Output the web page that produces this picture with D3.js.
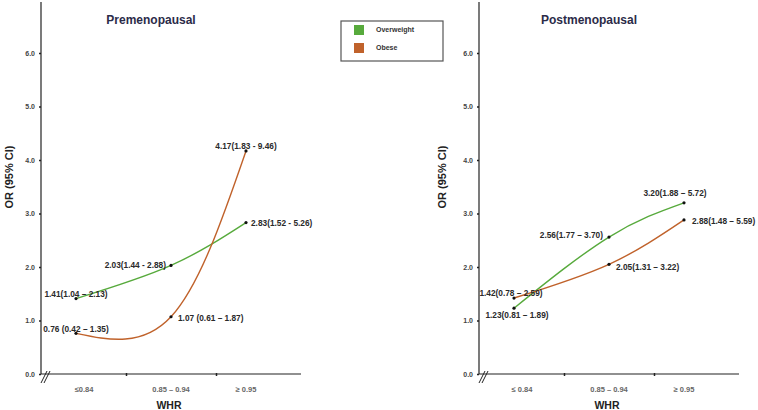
<!DOCTYPE html>
<html>
<head>
<meta charset="utf-8">
<script src="https://cdn.jsdelivr.net/npm/d3@7"></script>
<style>
  body { margin: 0; background: #fff; }
  svg { font-family: "Liberation Sans", Arial, sans-serif; }
</style>
</head>
<body>
<div id="chart"></div>
<script>
// WHR categories, placed at an approximate mid value of each band
const categoriesPre = ["≤0.84", "0.85 – 0.94", "≥ 0.95"];
const categoriesPost = ["≤ 0.84", "0.85 – 0.94", "≥ 0.95"];
const whrMid = [0.80, 0.895, 0.97];
const whrBounds = [0.85, 0.94];
const yTicks = [0, 1, 2, 3, 4, 5, 6];

// premenopausal
const preOverweight = [1.41, 2.03, 2.83];
const preOverweightText = ["1.41(1.04 – 2.13)", "2.03(1.44 - 2.88)", "2.83(1.52 - 5.26)"];
const preObese = [0.76, 1.07, 4.17];
const preObeseText = ["0.76 (0.42 – 1.35)", "1.07 (0.61 – 1.87)", "4.17(1.83 - 9.46)"];

// postmenopausal
const postOverweight = [1.23, 2.56, 3.20];
const postOverweightText = ["1.23(0.81 – 1.89)", "2.56(1.77 – 3.70)", "3.20(1.88 – 5.72)"];
const postObese = [1.42, 2.05, 2.88];
const postObeseText = ["1.42(0.78 – 2.59)", "2.05(1.31 – 3.22)", "2.88(1.48 – 5.59)"];

const seriesNames = ["Overweight", "Obese"];
const colors = { Overweight: "#57aa3c", Obese: "#c0622b" };

const W = 758, H = 410;
const svg = d3.select("#chart").append("svg")
  .attr("width", W)
  .attr("height", H);

// label offsets [dx, dy, anchor] relative to each point
const preLayout = {
  Overweight: [[0, -4, "middle"], [-5, 0, "end"], [5, 0, "start"]],
  Obese: [[0, -4, "middle"], [7, 1, "start"], [0, -5, "middle"]]
};
const postLayout = {
  Overweight: [[3, 7, "middle"], [-6, -2, "end"], [-9, -10, "middle"]],
  Obese: [[-3, -5, "middle"], [7, 3, "start"], [8, 1, "start"]]
};

function drawPanel(left, title, cats, rows, layout, titleGap) {
  const g = svg.append("g");
  const x = d3.scaleLinear().domain([0.765, 1.025]).range([left, left + 260]);
  const y = d3.scaleLinear().domain([0, 6]).range([374, 53]);

  // y axis
  const yAxis = g.append("g")
    .attr("transform", "translate(" + left + ",0)")
    .call(d3.axisLeft(y).tickValues(yTicks).tickSize(2).tickPadding(4)
      .tickFormat(d3.format(".1f")));
  yAxis.select(".domain").remove();
  yAxis.selectAll("line").attr("stroke", "#222").attr("stroke-width", 1.5);
  yAxis.selectAll("text")
    .style("font-size", "7px").style("font-weight", "bold").attr("fill", "#444");
  g.append("line")
    .attr("x1", left).attr("x2", left).attr("y1", 2).attr("y2", y(0))
    .attr("stroke", "#222").attr("stroke-width", 1.2);

  // x axis
  const xAxis = g.append("g")
    .attr("transform", "translate(0," + y(0) + ")")
    .call(d3.axisBottom(x).tickValues(whrBounds).tickSize(2).tickFormat(""));
  xAxis.select(".domain").remove();
  xAxis.selectAll("line").attr("stroke", "#222").attr("stroke-width", 1.5)
    .attr("y1", -1);
  g.append("line")
    .attr("x1", left).attr("x2", x.range()[1]).attr("y1", y(0)).attr("y2", y(0))
    .attr("stroke", "#222").attr("stroke-width", 1.2);

  // axis break marks
  [0, 3].forEach(function(o) {
    g.append("line")
      .attr("x1", left + o).attr("y1", y(0) + 9)
      .attr("x2", left + o + 6).attr("y2", y(0) - 3)
      .attr("stroke", "#222").attr("stroke-width", 1);
  });

  // category labels
  g.selectAll(".cat")
    .data(cats)
    .enter()
    .append("text")
    .attr("x", function(d, i) { return x(whrMid[i]) + (i === 0 ? 8 : 0); })
    .attr("y", 392)
    .attr("text-anchor", "middle")
    .style("font-size", "7.5px").style("font-weight", "bold")
    .attr("fill", "#666")
    .text(function(d) { return d; });

  g.append("text")
    .attr("x", (left + x.range()[1]) / 2 - 2)
    .attr("y", 409)
    .attr("text-anchor", "middle")
    .style("font-size", "10.5px").style("font-weight", "bold")
    .attr("fill", "#222")
    .text("WHR");

  g.append("text")
    .attr("transform", "translate(" + (left - titleGap) + ",177) rotate(-90)")
    .attr("dy", "0.35em")
    .attr("text-anchor", "middle")
    .style("font-size", "11px").style("font-weight", "bold")
    .attr("fill", "#222")
    .text("OR (95% CI)");

  g.append("text")
    .attr("x", left + 110)
    .attr("y", 24)
    .attr("text-anchor", "middle")
    .style("font-size", "12px").style("font-weight", "bold")
    .attr("fill", "#2b2b48")
    .text(title);

  const line = d3.line()
    .x(function(d, i) { return x(whrMid[i]); })
    .y(function(d) { return y(d); })
    .curve(d3.curveNatural);

  rows.forEach(function(r) {
    g.append("path")
      .datum(r.values)
      .attr("d", line)
      .attr("fill", "none")
      .attr("stroke", colors[r.name])
      .attr("stroke-width", 1.4);

    g.selectAll(null)
      .data(r.values)
      .enter()
      .append("circle")
      .attr("cx", function(d, i) { return x(whrMid[i]); })
      .attr("cy", function(d) { return y(d); })
      .attr("r", 1.6)
      .attr("fill", "#111");

    g.selectAll(null)
      .data(r.labels)
      .enter()
      .append("text")
      .attr("x", function(d, i) { return x(whrMid[i]) + layout[r.name][i][0]; })
      .attr("y", function(d, i) { return y(r.values[i]) + layout[r.name][i][1]; })
      .attr("dy", "0.35em")
      .attr("text-anchor", function(d, i) { return layout[r.name][i][2]; })
      .style("font-size", "8.3px").style("font-weight", "bold")
      .attr("fill", "#2a2a2a")
      .text(function(d) { return d; });
  });
}

drawPanel(41, "Premenopausal", categoriesPre, [
  { name: "Overweight", values: preOverweight, labels: preOverweightText },
  { name: "Obese", values: preObese, labels: preObeseText }
], preLayout, 32);

drawPanel(479, "Postmenopausal", categoriesPost, [
  { name: "Overweight", values: postOverweight, labels: postOverweightText },
  { name: "Obese", values: postObese, labels: postObeseText }
], postLayout, 37);

// legend
const legend = svg.append("g").attr("transform", "translate(341,21)");
legend.append("rect")
  .attr("width", 102).attr("height", 40)
  .attr("fill", "#fff").attr("stroke", "#555").attr("stroke-width", 1.2);
seriesNames.forEach(function(name, i) {
  legend.append("rect")
    .attr("x", 13).attr("y", 4 + i * 18)
    .attr("width", 10).attr("height", 10)
    .attr("fill", colors[name]);
  legend.append("text")
    .attr("x", 35).attr("y", 9 + i * 18)
    .attr("dy", "0.35em")
    .style("font-size", "7px").style("font-weight", "bold")
    .attr("fill", "#333")
    .text(name);
});
</script>
</body>
</html>
